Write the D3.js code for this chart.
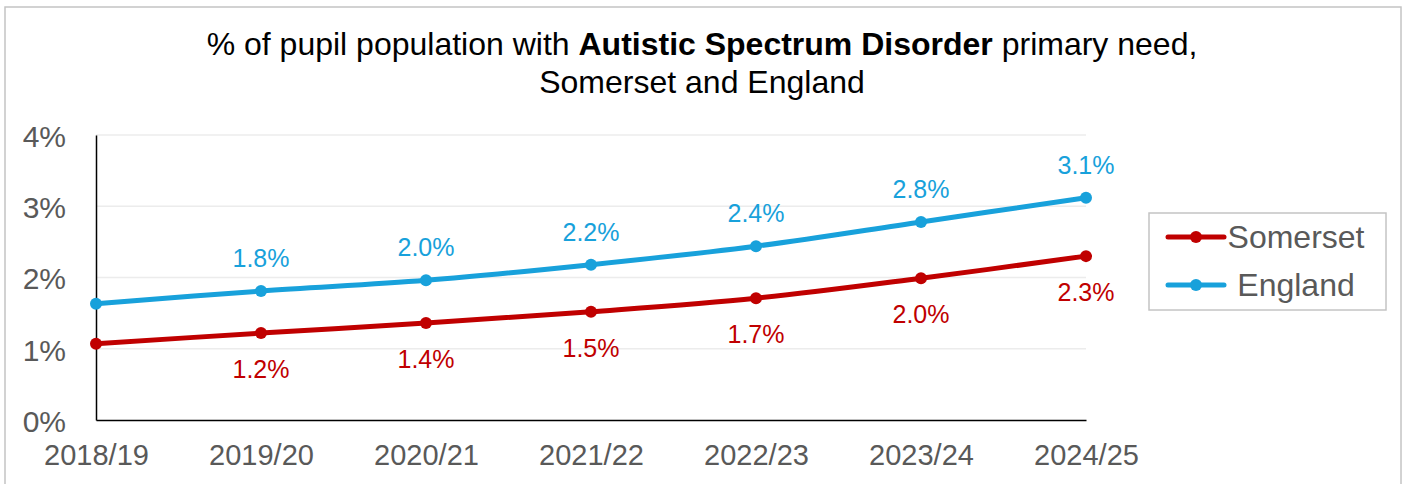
<!DOCTYPE html>
<html>
<head>
<meta charset="utf-8">
<script src="https://cdn.jsdelivr.net/npm/d3@7"></script>
<style>
  html, body { margin: 0; padding: 0; background: #fff; }
  svg { display: block; font-family: "Liberation Sans", Arial, sans-serif; }
</style>
</head>
<body>
<svg id="chart" width="1405" height="484"></svg>
<script>
const categories = ["2018/19", "2019/20", "2020/21", "2021/22", "2022/23", "2023/24", "2024/25"];
const somerset = [1.07, 1.22, 1.36, 1.52, 1.71, 1.99, 2.30];
const england  = [1.63, 1.81, 1.96, 2.18, 2.44, 2.78, 3.12];
const somersetLabels = ["", "1.2%", "1.4%", "1.5%", "1.7%", "2.0%", "2.3%"];
const englandLabels  = ["", "1.8%", "2.0%", "2.2%", "2.4%", "2.8%", "3.1%"];
const yTicks = [0, 1, 2, 3, 4];
const seriesNames = ["Somerset", "England"];

const colors = { Somerset: "#C00000", England: "#18A1DB" };
const svg = d3.select("#chart");

// outer border
svg.append("rect").attr("x", 5).attr("y", 7).attr("width", 1396).attr("height", 490)
  .attr("fill", "none").attr("stroke", "#c4c4c4").attr("stroke-width", 1.5);

// title
const title = svg.append("text").attr("text-anchor", "middle").attr("font-size", 32).attr("fill", "#000");
const l1 = title.append("tspan").attr("x", 702).attr("y", 55);
l1.append("tspan").text("% of pupil population with ");
l1.append("tspan").attr("font-weight", "bold").text("Autistic Spectrum Disorder");
l1.append("tspan").text(" primary need,");
title.append("tspan").attr("x", 702).attr("y", 93).text("Somerset and England");

const x = d3.scalePoint().domain(categories).range([96, 1086]);
const y = d3.scaleLinear().domain([0, 4]).range([420, 135]);

// gridlines
svg.append("g").selectAll("line").data(yTicks.filter(d => d > 0)).join("line")
  .attr("x1", 96).attr("x2", 1086).attr("y1", d => y(d)).attr("y2", d => y(d))
  .attr("stroke", "#ececec").attr("stroke-width", 1.5);

// y axis
const yAxis = svg.append("g").attr("transform", "translate(96,0)")
  .call(d3.axisLeft(y).tickValues(yTicks).tickFormat(d => d + "%").tickSize(0).tickPadding(30));
yAxis.select(".domain").attr("stroke", "#000").attr("stroke-width", 1.5);
yAxis.selectAll("text").attr("font-size", 30).attr("dy", "0.38em").attr("fill", "#595959")
  .attr("font-family", "Liberation Sans, Arial, sans-serif");

// x axis
const xAxis = svg.append("g").attr("transform", "translate(0,420)")
  .call(d3.axisBottom(x).tickSize(0).tickPadding(24));
xAxis.select(".domain").attr("stroke", "#000").attr("stroke-width", 1.5);
xAxis.selectAll("text").attr("font-size", 29).attr("fill", "#595959")
  .attr("font-family", "Liberation Sans, Arial, sans-serif");

const data = {
  Somerset: somerset.map((v, i) => ({ c: categories[i], v, label: somersetLabels[i] })),
  England: england.map((v, i) => ({ c: categories[i], v, label: englandLabels[i] }))
};

const line = d3.line().x(d => x(d.c)).y(d => y(d.v)).curve(d3.curveCatmullRom.alpha(0.5));

["England", "Somerset"].forEach(name => {
  const g = svg.append("g");
  g.append("path").datum(data[name]).attr("d", line)
    .attr("fill", "none").attr("stroke", colors[name]).attr("stroke-width", 5).attr("stroke-linecap", "round");
  g.selectAll("circle").data(data[name]).join("circle")
    .attr("cx", d => x(d.c)).attr("cy", d => y(d.v)).attr("r", 6).attr("fill", colors[name]);
  g.selectAll("text").data(data[name].filter(d => d.label)).join("text")
    .attr("x", d => x(d.c))
    .attr("y", d => y(d.v) + (name === "England" ? -24 : 45))
    .attr("text-anchor", "middle").attr("font-size", 25).attr("fill", colors[name])
    .text(d => d.label);
});

// legend
const lg = svg.append("g");
lg.append("rect").attr("x", 1149).attr("y", 213).attr("width", 237).attr("height", 97)
  .attr("fill", "#fff").attr("stroke", "#c4c4c4").attr("stroke-width", 1.5);
seriesNames.forEach((name, i) => {
  const cy = 237 + i * 48;
  lg.append("line").attr("x1", 1168).attr("x2", 1224).attr("y1", cy).attr("y2", cy)
    .attr("stroke", colors[name]).attr("stroke-width", 5).attr("stroke-linecap", "round");
  lg.append("circle").attr("cx", 1196).attr("cy", cy).attr("r", 6).attr("fill", colors[name]);
  lg.append("text").attr("x", 1296).attr("y", cy + 11).attr("text-anchor", "middle")
    .attr("font-size", 32).attr("fill", "#595959").text(name);
});
</script>
</body>
</html>
